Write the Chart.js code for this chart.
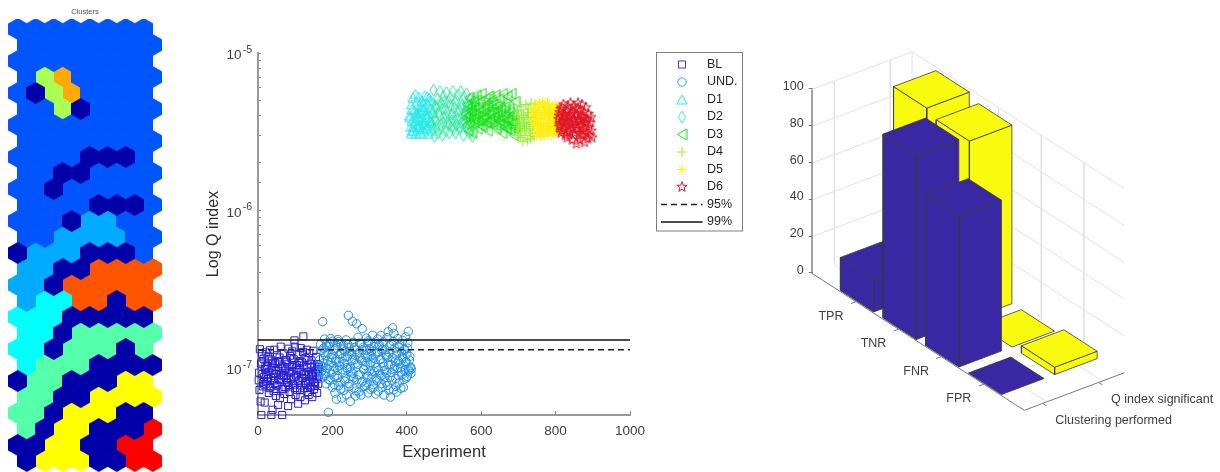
<!DOCTYPE html>
<html>
<head>
<meta charset="utf-8">
<title>Clusters, Q index and rates</title>
<script src="https://cdn.jsdelivr.net/npm/chart.js@4"></script>
<style>
html, body { margin: 0; padding: 0; background: #fff; width: 1220px; height: 472px; overflow: hidden; }
canvas { position: absolute; }
</style>
</head>
<body>
<canvas id="mapChart" style="left:0;top:0" width="170" height="472"></canvas>
<canvas id="qChart" style="left:190px;top:40px" width="570" height="432"></canvas>
<canvas id="barChart" style="left:770px;top:0" width="450" height="472"></canvas>
<script>
// ---- left: cluster map
const clusterColors = ["#0000a8", "#0055ff", "#00aaff", "#00ffff", "#55ffaa", "#aaff55", "#ffff00", "#ffaa00", "#ff5500", "#ff0000"];
const mapRows = [
    [1,1,1,1,1,1,1,1],
    [1,1,1,1,1,1,1,1],
    [1,1,1,1,1,1,1,1],
    [1,5,7,1,1,1,1,1],
    [1,0,5,7,1,1,1,1],
    [1,1,5,0,1,1,1,1],
    [1,1,1,1,1,1,1,1],
    [1,1,1,1,1,1,1,1],
    [1,1,1,1,0,0,0,1],
    [1,1,0,0,1,1,1,1],
    [1,1,0,1,1,1,1,1],
    [1,1,1,1,0,0,0,1],
    [1,1,1,0,2,2,1,1],
    [1,1,2,2,2,2,1,1],
    [0,2,2,2,0,0,0,1],
    [2,2,0,0,8,8,8,8],
    [2,2,0,8,8,8,8,8],
    [2,3,3,8,8,0,8,8],
    [3,3,3,0,0,0,0,0],
    [3,3,0,4,4,4,4,4],
    [3,3,0,4,4,4,0,4],
    [3,4,4,4,0,0,0,0],
    [0,4,4,0,0,0,6,6],
    [4,4,0,0,6,6,6,6],
    [4,4,0,6,6,6,0,0],
    [4,0,6,6,0,0,0,9],
    [0,0,6,6,0,0,9,9],
    [0,6,6,6,0,0,9,9]
];

// ---- middle: Q index, experiment number and value in units of the arrays' names
const blX = [2,4,5,7,8,9,11,12,13,15,16,18,19,21,22,24,25,26,28,29,31,32,34,35,36,38,39,41,42,44,45,46,48,49,51,52,54,55,56,58,59,61,62,64,65,66,68,69,71,72,74,75,76,78,79,81,82,84,85,86,88,89,91,92,94,95,96,98,99,101,102,104,105,106,108,109,111,112,114,115,116,118,119,121,122,124,125,126,128,129,131,132,134,135,136,138,139,141,142,144,145,146,148,149,151,152,154,155,156,158,159,161,162,164,
    3,10,14,17,20,23,27,30,33,37,40,43,47,50,53,57,60,63,67,70,73,77,80,83,87,90,93,97,100,103,107,110,113,117,120,123,127,130,133,137,140,143,147,150,153,157,160,163];
const blE8 = [8.3,7.2,13.1,6.1,10.6,5.0,12.2,9.1,7.6,11.4,8.7,6.0,9.8,12.5,7.9,10.3,8.2,11.8,9.4,6.9,7.4,12.9,10.0,8.6,5.0,11.1,5.4,9.2,7.1,13.0,8.0,10.7,6.6,9.6,12.0,7.7,5.8,10.9,8.4,11.6,6.4,13.6,9.0,7.3,5.0,10.2,8.8,12.3,6.8,9.9,7.5,11.2,8.6,8.1,10.5,5.7,13.2,9.3,7.0,11.9,8.5,6.3,10.1,12.7,7.8,9.5,11.3,14.9,13.6,6.7,8.9,10.4,7.2,12.1,5.9,9.7,8.3,11.0,6.5,13.3,7.7,10.8,8.6,12.6,15.8,9.1,7.4,6.2,11.5,8.0,13.0,10.0,7.0,9.4,6.7,12.4,8.2,10.6,7.6,11.1,9.0,6.5,8.8,12.8,7.3,10.3,8.0,9.2,11.7,8.5,6.9,9.8,7.9,10.1,
    9.3,10.8,8.1,7.8,10.2,9.0,8.5,11.3,7.5,9.7,10.6,8.3,9.1,7.7,11.0,9.5,8.4,10.0,7.3,8.9,9.6,10.9,8.0,7.6,9.2,11.5,10.4,8.7,7.4,9.9,8.2,10.7,7.2,9.4,8.6,10.3,7.9,9.0,11.2,8.8,7.5,10.1,9.3,8.1,7.7,9.6,10.5,8.9];
const undX = [166,168,170,171,173,174,176,177,179,180,182,183,185,186,188,189,191,192,194,195,197,198,200,201,203,204,206,207,209,211,212,214,215,217,218,220,221,223,225,226,228,229,231,232,234,235,237,238,240,241,243,245,246,248,249,251,252,254,255,257,258,260,262,263,265,266,268,269,271,272,274,276,277,279,280,282,283,285,286,288,289,291,293,294,296,297,299,300,302,303,305,306,308,310,311,313,314,316,317,319,320,322,323,325,327,328,330,331,333,334,336,337,339,340,342,344,345,347,348,350,351,353,355,356,358,359,361,362,364,365,367,368,370,372,373,375,376,378,379,381,382,384,386,387,389,390,392,393,395,397,398,400,401,403,404,406,408,410,411,412,
    169,172,175,178,181,184,187,190,193,196,199,202,205,208,210,213,216,219,222,224,227,230,233,236,239,242,244,247,250,253,256,259,261,264,267,270,273,275,278,281,284,287,290,292,295,298,301,304,307,309,312,315,318,321,324,326,329,332,335,338,341,343,346,349,352,354,357,360,363,366,369,371,374,377,380,383,385,388,391,394,396,399,402,405,407,409];
const undE8 = [11.2,14.1,9.4,12.8,8.6,19.6,13.3,10.7,15.2,8.9,11.9,7.9,14.4,9.9,12.4,5.2,10.4,13.6,8.3,15.3,9.1,11.6,7.5,14.7,10.2,12.9,8.7,6.9,11.0,6.3,13.8,9.6,15.1,7.7,10.9,12.2,8.1,14.0,6.4,11.4,9.3,13.1,7.2,10.6,12.7,8.5,15.0,6.7,9.8,11.8,21.5,7.9,13.4,6.1,10.1,8.8,12.1,19.7,9.2,14.5,7.4,11.3,6.6,13.0,19.0,8.4,10.5,15.6,7.0,12.5,9.0,14.2,6.7,11.1,17.7,8.2,13.5,9.7,7.6,12.0,10.3,15.4,8.0,11.7,6.9,14.8,9.5,13.2,7.3,10.8,12.6,8.6,16.1,7.8,11.5,9.4,14.3,6.8,12.3,10.0,8.3,15.2,7.1,13.7,9.1,11.2,16.0,8.9,12.8,7.5,10.7,14.6,6.7,9.6,13.0,8.1,11.9,15.5,7.7,16.9,10.4,12.4,8.7,6.5,14.1,9.3,11.6,17.9,7.2,16.5,10.2,13.3,8.5,12.0,7.0,9.9,15.3,11.0,8.0,13.9,10.6,7.4,12.6,9.0,14.9,11.4,8.4,13.1,9.7,15.7,10.9,12.2,8.8,14.4,17.0,9.5,11.8,10.1,9.2,9.8,10.3,9.6,
    10.1,12.5,9.2,13.7,11.0,8.4,14.2,10.8,12.1,9.5,7.8,13.2,11.3,8.9,14.6,10.3,7.3,12.3,9.7,13.9,8.2,11.7,10.0,14.0,7.6,12.7,9.4,11.1,8.6,13.4,10.6,7.1,12.2,9.0,14.3,11.5,8.1,13.0,9.8,10.9,7.7,12.9,8.8,14.5,10.4,11.9,9.1,7.4,13.6,10.7,8.5,12.4,9.6,14.0,11.3,7.9,13.1,10.2,8.7,12.1,9.3,11.6,7.2,13.8,10.5,8.3,14.7,9.9,11.0,7.6,12.6,8.9,13.5,10.0,9.4,11.7,7.5,12.9,10.8,8.6,13.3,9.7,11.2,10.0,8.9,9.5];
const d1X = [407,410,412,414,416,418,420,422,423,425,427,429,430,432,434,436,437,439,441,443,444,446,448,450,451,453,455,456,458,460,461,463,465,466,468,469,412,426,440,454,
    409,413,417,421,424,428,431,435,438,442,445,449,452,457,459,462,464,467,415,433];
const d1E6 = [4.0,3.4,4.7,3.7,5.2,3.2,4.3,3.6,5.5,3.1,4.9,3.9,3.3,5.3,4.2,3.5,4.6,3.1,5.0,3.8,4.4,3.2,5.4,3.6,4.1,3.3,4.8,3.9,3.1,5.2,3.5,4.5,3.7,5.0,3.2,4.2,3.1,4.1,4.6,5.3,
    3.9,4.4,3.4,4.0,3.7,4.2,3.5,3.8,4.3,3.3,3.6,4.5,3.9,3.4,4.1,3.7,4.4,3.6,3.2,3.4];
const d2X = [470,472,475,477,479,482,484,486,489,491,493,496,498,500,503,505,507,510,512,514,517,519,521,524,526,528,531,533,535,538,540,542,545,547,549,552,554,556,559,561,563,566,568,570,573,575,577,579,
    471,474,478,481,485,488,492,495,499,502,506,509,513,516,520,523,527,530,534,537,541,544,548,551,555,558,562,565,569,572];
const d2E6 = [3.3,5.8,2.95,4.6,3.7,5.1,3.1,4.2,5.7,3.5,4.8,3.0,5.3,3.9,4.4,3.2,5.6,3.6,4.9,3.1,5.2,4.0,3.4,5.7,3.7,4.5,3.1,5.0,3.8,5.4,3.3,4.3,5.7,3.6,4.7,3.0,5.2,4.1,3.4,5.5,3.8,4.6,3.1,5.1,3.6,4.4,2.95,4.9,
    4.2,3.8,4.5,3.4,4.7,4.0,3.3,4.4,3.6,4.9,3.9,4.2,3.5,4.6,3.7,4.1,3.3,4.8,3.5,4.2,3.9,3.4,4.5,4.0,3.6,4.7,3.3,4.1,3.8,4.4];
const d3X = [558,561,563,566,568,571,573,576,578,581,583,586,588,591,593,596,598,601,603,606,608,611,613,616,618,621,623,626,628,631,633,636,638,641,643,646,648,651,653,656,658,661,663,666,668,671,673,676,678,681,683,686,688,691,693,
    559,562,565,569,572,575,579,582,585,589,592,595,599,602,605,609,612,615,619,622,625,629,632,635,639,642,645,649,652,655,659,662,665,669,672,675,679,682,685,689];
const d3E6 = [4.1,3.5,4.7,3.2,5.2,3.8,4.3,3.1,5.0,3.6,4.5,3.9,5.4,3.3,4.2,4.9,3.7,5.5,3.4,4.4,3.95,5.1,3.6,4.6,3.2,5.3,3.8,4.2,5.0,3.5,4.7,3.95,5.4,3.3,4.3,3.7,5.1,3.5,4.5,3.1,5.5,3.9,3.4,4.8,3.3,5.3,3.7,4.4,3.2,5.5,3.6,4.1,3.0,4.9,3.4,
    3.9,4.4,4.0,3.6,4.6,4.2,3.8,4.9,4.1,3.7,4.5,3.5,4.3,4.0,3.8,4.6,4.2,3.6,4.8,4.1,3.7,4.4,3.9,4.2,3.5,4.6,4.0,3.7,4.3,3.9,3.6,4.5,4.1,3.3,3.8,4.2,3.5,4.0,3.7,3.3];
const d4X = [696,698,700,703,705,707,710,712,714,716,718,720,722,724,726,728,730,732,734,736,738,740,742,744,745,
    699,702,706,709,713,717,721,725,729,733,737,741];
const d4E6 = [3.4,4.3,3.0,3.7,2.9,4.6,3.3,2.75,4.1,3.6,3.0,4.7,3.4,2.8,3.9,4.4,3.2,2.85,4.8,3.6,3.1,4.2,2.95,3.8,4.7,
    3.9,3.5,3.2,4.0,3.6,3.3,3.8,4.2,3.5,3.1,3.9,3.5];
const d5X = [738,740,742,744,745,747,749,751,753,754,756,758,760,761,763,765,767,769,770,772,774,776,778,779,781,783,785,787,788,790,792,794,796,797,799,801,803,805,806,808,810,812,814,816,818,
    739,743,746,750,752,755,759,762,764,768,771,775,777,780,784,786,789,793,795,798,800,804,807,811,815];
const d5E6 = [3.8,4.4,3.1,4.0,3.5,4.7,3.0,3.7,4.3,3.3,4.8,3.6,2.95,4.1,3.4,4.9,3.2,3.9,4.5,3.0,4.2,3.5,4.8,3.1,3.8,4.6,3.3,4.0,3.0,4.4,3.6,3.15,4.2,3.4,4.7,3.1,3.9,3.55,4.3,3.2,4.5,3.7,3.3,4.1,3.6,
    4.1,3.6,4.3,3.4,4.0,4.4,3.2,3.8,4.6,3.5,4.0,3.3,4.2,3.6,4.1,3.4,3.9,4.5,3.7,3.2,4.0,3.5,3.8,4.2,3.4];
const d6X = [808,810,811,813,815,816,818,820,821,823,825,826,828,830,831,833,835,836,838,840,841,843,845,846,848,850,851,853,855,856,858,860,861,863,865,866,868,870,871,873,875,876,878,880,881,883,885,886,888,890,891,893,895,896,898,
    809,812,814,817,819,822,824,827,829,832,834,837,839,842,844,847,849,852,854,857,859,862,864,867,869,872,874,877,879,882];
const d6E6 = [3.8,3.4,4.2,3.6,3.1,4.5,3.9,3.3,4.7,3.5,4.0,3.0,4.3,3.7,2.9,4.6,3.4,3.9,3.1,4.8,3.6,4.1,2.8,3.3,4.6,3.8,3.1,4.4,3.5,2.65,4.0,4.8,3.3,3.7,2.8,4.3,3.5,3.0,4.7,3.9,3.2,4.2,2.7,3.6,4.5,3.1,3.8,2.85,4.1,3.4,3.0,3.6,3.9,3.2,2.9,
    4.0,3.5,4.4,3.2,3.7,4.1,3.4,3.9,3.1,4.3,3.6,3.2,4.0,3.5,4.2,3.7,3.0,4.1,3.6,3.3,4.4,3.8,3.1,3.7,4.0,3.4,3.0,3.8,3.3,3.6];
const limit95 = 1.3e-7;
const limit99 = 1.5e-7;
const xTicks = [0, 200, 400, 600, 800, 1000];
const logTicks = [1e-5, 1e-6, 1e-7];
const logExponents = ["-5", "-6", "-7"];

// ---- right: 3D bars
const rateNames = ["TPR", "TNR", "FNR", "FPR"];
const methodNames = ["Clustering performed", "Q index significant"];
const clusteringRates = [18, 100, 82, 0];
const qIndexRates = [100, 97, 0, 4];
const zTicks = [0, 20, 40, 60, 80, 100];

const BLUE = "#3a27a4";
const YELLOW = "#f9fb0e";
const TEXT = "#404040";
const FONT = "'Liberation Sans', Arial, sans-serif";

Chart.defaults.animation = false;
Chart.defaults.responsive = false;
Chart.defaults.maintainAspectRatio = false;
Chart.defaults.font.family = FONT;
Chart.defaults.plugins.legend.display = false;
Chart.defaults.plugins.tooltip.enabled = false;

// axis labels must not push the chart area in
function noScalePadding(s) {
    s.paddingTop = 0;
    s.paddingBottom = 0;
    s.paddingLeft = 0;
    s.paddingRight = 0;
}

// small canvas used as a point style
function marker(w, h, paint) {
    const c = document.createElement("canvas");
    c.width = w;
    c.height = h;
    paint(c.getContext("2d"), w, h);
    return c;
}

function hexagon(color) {
    return marker(19, 22, (ctx, w, h) => {
        ctx.fillStyle = color;
        ctx.beginPath();
        ctx.moveTo(w/2, 0);
        ctx.lineTo(w, h*0.25);
        ctx.lineTo(w, h*0.75);
        ctx.lineTo(w/2, h);
        ctx.lineTo(0, h*0.75);
        ctx.lineTo(0, h*0.25);
        ctx.closePath();
        ctx.fill();
    });
}

function outline(w, h, color, points) {
    return marker(w, h, (ctx) => {
        ctx.strokeStyle = color;
        ctx.lineWidth = 1;
        ctx.beginPath();
        points.forEach((p, i) => i ? ctx.lineTo(p[0], p[1]) : ctx.moveTo(p[0], p[1]));
        ctx.closePath();
        ctx.stroke();
    });
}

function pentagram(color) {
    const pts = [];
    for (let i = 0; i < 10; i++) {
        const r = i % 2 ? 2.2 : 5.4;
        const a = -Math.PI/2 + i*Math.PI/5;
        pts.push([6 + r*Math.cos(a), 6 + r*Math.sin(a)]);
    }
    return outline(12, 12, color, pts);
}

// map chart
const mapData = clusterColors.map((color, k) => {
    const pts = [];
    mapRows.forEach((row, r) => row.forEach((v, c) => {
        if (v === k) pts.push({x: c + (r % 2 ? 0.5 : 0), y: r});
    }));
    return {data: pts, pointStyle: hexagon(color), pointRadius: 10};
});

new Chart(document.getElementById("mapChart"), {
    type: "scatter",
    data: {datasets: mapData},
    options: {
        layout: {padding: 0, autoPadding: false},
        plugins: {
            title: {display: true, text: "Clusters", color: "#555", font: {size: 7.5, weight: "normal"}, padding: {top: 7, bottom: 3}}
        },
        scales: {
            x: {display: false, min: -0.983, max: 8.461},
            y: {display: false, reverse: true, min: -0.625, max: 27.69}
        }
    }
});

// Q index chart
const pairs = (xs, ys, unit) => xs.map((x, i) => ({x: x, y: ys[i]*unit}));
const scatterSets = [
    {label: "BL", data: pairs(blX, blE8, 1e-8), borderColor: "#2a20d4", pointStyle: "rect", pointRadius: 5},
    {label: "UND.", data: pairs(undX, undE8, 1e-8), borderColor: "#2090e8", pointStyle: "circle", pointRadius: 4.2},
    {label: "D1", data: pairs(d1X, d1E6, 1e-6), borderColor: "#25e8e8", pointStyle: outline(12, 11, "#25e8e8", [[6,1],[11,10],[1,10]]), pointRadius: 5},
    {label: "D2", data: pairs(d2X, d2E6, 1e-6), borderColor: "#30e8a4", pointStyle: outline(9, 14, "#30e8a4", [[4.5,1],[8,7],[4.5,13],[1,7]]), pointRadius: 6},
    {label: "D3", data: pairs(d3X, d3E6, 1e-6), borderColor: "#18e018", pointStyle: outline(11, 13, "#18e018", [[1,6.5],[10,1],[10,12]]), pointRadius: 5},
    {label: "D4", data: pairs(d4X, d4E6, 1e-6), borderColor: "#90ee28", pointStyle: "cross", pointRadius: 5},
    {label: "D5", data: pairs(d5X, d5E6, 1e-6), borderColor: "#ffee10", pointStyle: "star", pointRadius: 5},
    {label: "D6", data: pairs(d6X, d6E6, 1e-6), borderColor: "#e01828", pointStyle: pentagram("#e01828"), pointRadius: 5}
];
scatterSets.forEach(d => { d.borderWidth = 1; d.backgroundColor = "rgba(0,0,0,0)"; d.pointBorderWidth = 1; d.clip = false; });
const limitSets = [
    {label: "95%", data: [{x: 0, y: limit95}, {x: 1000, y: limit95}], showLine: true, borderColor: "#222", borderWidth: 1.4, borderDash: [6, 4], pointRadius: 0},
    {label: "99%", data: [{x: 0, y: limit99}, {x: 1000, y: limit99}], showLine: true, borderColor: "#111", borderWidth: 1.6, pointRadius: 0}
];
const qSets = scatterSets.concat(limitSets);

// legend box with the MATLAB layout, and the 10^n labels with a raised exponent
const legendBox = {
    id: "legendBox",
    afterDraw(chart) {
        const ctx = chart.ctx;
        const a = chart.chartArea;
        const left = a.right + 26.5, top = a.top - 0.5;
        ctx.save();
        ctx.fillStyle = "#fff";
        ctx.strokeStyle = "#808080";
        ctx.lineWidth = 1;
        ctx.fillRect(left, top, 86, 178.5);
        ctx.strokeRect(left, top, 86, 178.5);
        ctx.font = "12.5px " + FONT;
        ctx.textBaseline = "middle";
        qSets.forEach((d, i) => {
            const y = top + 12 + i*17.5;
            if (d.pointRadius) {
                ctx.strokeStyle = d.borderColor;
                ctx.fillStyle = "rgba(0,0,0,0)";
                ctx.lineWidth = 0.9;
                Chart.helpers.drawPoint(ctx, {pointStyle: d.pointStyle, radius: d.pointRadius, rotation: 0, borderWidth: 0.9}, left + 25.5, y);
            } else {
                ctx.strokeStyle = d.borderColor;
                ctx.lineWidth = d.borderWidth;
                ctx.setLineDash(d.borderDash || []);
                ctx.beginPath();
                ctx.moveTo(left + 4.5, y);
                ctx.lineTo(left + 46, y);
                ctx.stroke();
                ctx.setLineDash([]);
            }
            ctx.fillStyle = "#262626";
            ctx.fillText(d.label, left + 50.5, y);
        });
        const yScale = chart.scales.y;
        ctx.fillStyle = TEXT;
        ctx.textAlign = "right";
        logTicks.forEach((t, i) => {
            const y = yScale.getPixelForValue(t);
            ctx.font = "13.5px " + FONT;
            ctx.fillText("10", a.left - 16.5, y + 2.5);
            ctx.font = "10.5px " + FONT;
            ctx.fillText(logExponents[i], a.left - 6, y - 3);
        });
        ctx.restore();
    }
};

new Chart(document.getElementById("qChart"), {
    type: "scatter",
    data: {datasets: qSets.slice().reverse()},
    options: {
        layout: {padding: {top: 13, right: 130, bottom: 0, left: 0}, autoPadding: false},
        scales: {
            x: {
                type: "linear", min: 0, max: 1000,
                afterBuildTicks: s => { s.ticks = xTicks.map(v => ({value: v})); },
                afterFit: s => { s.height = 57; noScalePadding(s); },
                border: {color: "#999", width: 2},
                grid: {drawOnChartArea: false, tickLength: -4, tickColor: "#8c8c8c"},
                ticks: {color: TEXT, font: {size: 13.5}, padding: 12, maxRotation: 0, callback: v => String(v)},
                title: {display: true, text: "Experiment", color: "#303030", font: {size: 16.5}, padding: {top: 6, bottom: 10}}
            },
            y: {
                type: "logarithmic", min: 5e-8, max: 1e-5,
                afterFit: s => { s.width = 68; noScalePadding(s); },
                border: {color: "#999", width: 2},
                grid: {drawOnChartArea: false, tickLength: -3, tickColor: "#8c8c8c"},
                ticks: {color: TEXT, font: {size: 13.5}, padding: 8, autoSkip: false, callback: () => ""},
                title: {display: true, text: "Log Q index", color: "#303030", font: {size: 16}, padding: {top: 14, bottom: 0}}
            }
        }
    },
    plugins: [legendBox]
});

// 3D projection: category c, method s, height z -> chart coordinates
const catStep = [42.7, 27.5];
const methodStep = [56, -21];
const zPx = 1.84;
const origin = [-33, 13.8];    // c = 0, s = 0 on the floor, seen from the axis foot
const cMin = -0.03, cMax = 4.95, sMin = 0.6, sMax = 2.39;
const halfC = 0.39, halfS = 0.38;
const barRow = [1, 1.95];      // floor position of the two bar rows

function proj(c, s, z) {
    return {
        x: origin[0] + c*catStep[0] + s*methodStep[0],
        y: z - (origin[1] + c*catStep[1] + s*methodStep[1])/zPx
    };
}

function lineSet(points, color, width) {
    return {data: points, showLine: true, pointRadius: 0, borderColor: color, borderWidth: width, fill: false, clip: false};
}

function faceSet(points, color) {
    return {data: points.concat([points[0]]), showLine: true, pointRadius: 0, borderColor: "#3a3a3a", borderWidth: 0.8, backgroundColor: color, fill: "shape", clip: false};
}

const GRID = "#e2e2e2";
const AXIS = "#7a7a7a";
const sets3d = [];
// walls and floor grid
zTicks.slice(1).forEach(z => {
    sets3d.push(lineSet([proj(cMin, sMin, z), proj(cMin, sMax, z), proj(cMax, sMax, z)], GRID, 1));
});
[1, 2].forEach(s => {
    sets3d.push(lineSet([proj(cMin, s, 100), proj(cMin, s, 0), proj(cMax, s, 0)], GRID, 1));
});
[1, 2, 3, 4].forEach(c => {
    sets3d.push(lineSet([proj(c, sMax, 100), proj(c, sMax, 0), proj(c, sMin, 0)], GRID, 1));
});
sets3d.push(lineSet([proj(cMin, sMax, 0), proj(cMin, sMax, 100)], GRID, 1));
sets3d.push(lineSet([proj(cMin, sMin, 0), proj(cMin, sMin, 100)], AXIS, 1.4));
sets3d.push(lineSet([proj(cMin, sMin, 0), proj(cMax, sMin, 0), proj(cMax, sMax, 0)], AXIS, 1));
// tick marks on the floor edges
[1, 2, 3, 4].forEach(c => sets3d.push(lineSet([proj(c, sMin, 0), proj(c, sMin - 0.09, 0)], AXIS, 1)));
[1, 2].forEach(s => sets3d.push(lineSet([proj(cMax, s - 0.07, 0), proj(cMax + 0.09, s - 0.07, 0)], AXIS, 1)));
// bars back to front
[qIndexRates, clusteringRates].forEach((rates, m) => {
    const s = barRow[1 - m];
    const color = m ? BLUE : YELLOW;
    rates.forEach((v, i) => {
        const c = i + 1;
        const c0 = c - halfC, c1 = c + halfC, s0 = s - halfS, s1 = s + halfS;
        if (v > 0) {
            sets3d.push(faceSet([proj(c0, s0, 0), proj(c1, s0, 0), proj(c1, s0, v), proj(c0, s0, v)], color));
            sets3d.push(faceSet([proj(c1, s0, 0), proj(c1, s1, 0), proj(c1, s1, v), proj(c1, s0, v)], color));
        }
        sets3d.push(faceSet([proj(c0, s0, v), proj(c1, s0, v), proj(c1, s1, v), proj(c0, s1, v)], color));
    });
});

const floorLabels = {
    id: "floorLabels",
    afterDraw(chart) {
        const ctx = chart.ctx;
        const sx = chart.scales.x, sy = chart.scales.y;
        const px = p => [sx.getPixelForValue(p.x), sy.getPixelForValue(p.y)];
        ctx.save();
        ctx.fillStyle = TEXT;
        ctx.font = "12.5px " + FONT;
        ctx.textBaseline = "middle";
        ctx.textAlign = "center";
        rateNames.forEach((name, i) => {
            const p = px(proj(i + 1, sMin, 0));
            ctx.fillText(name, p[0] - 25, p[1] + 14.5);
        });
        ctx.textAlign = "left";
        methodNames.forEach((name, i) => {
            const p = px(proj(cMax, i + 1, 0));
            ctx.fillText(name, p[0] + 8.5, p[1] + 19);
        });
        ctx.restore();
    }
};

new Chart(document.getElementById("barChart"), {
    type: "scatter",
    data: {datasets: sets3d.slice().reverse()},
    options: {
        layout: {padding: 0, autoPadding: false},
        scales: {
            x: {type: "linear", display: false, min: 0, max: 408},
            y: {
                type: "linear", min: (273 - 472)/zPx, max: 273/zPx,
                afterBuildTicks: s => { s.ticks = zTicks.map(v => ({value: v})); },
                afterFit: s => { s.width = 42.7; noScalePadding(s); },
                border: {display: false},
                grid: {drawOnChartArea: false, tickLength: 4, tickColor: AXIS},
                ticks: {color: TEXT, font: {size: 12.5}, padding: 5, labelOffset: -2.5}
            }
        }
    },
    plugins: [floorLabels]
});
</script>
</body>
</html>
